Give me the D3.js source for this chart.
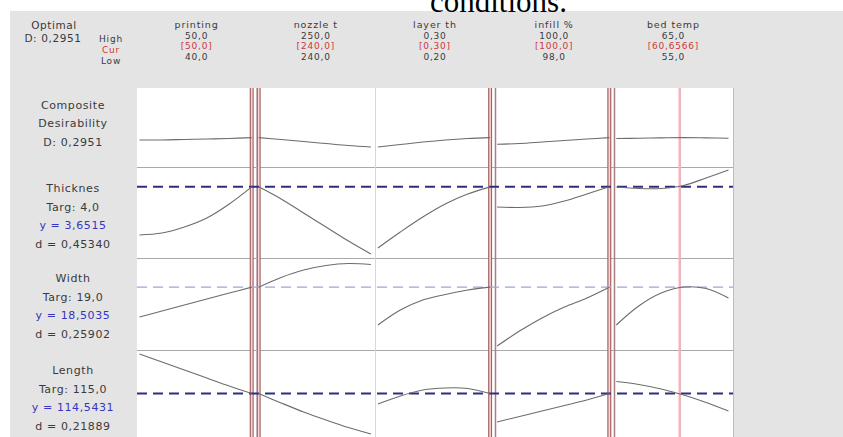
<!DOCTYPE html>
<html>
<head>
<meta charset="utf-8">
<script src="https://cdn.jsdelivr.net/npm/d3@7"></script>
<style>
  html, body { margin: 0; padding: 0; background: #ffffff; }
  svg { display: block; }
  text { font-family: "DejaVu Sans", sans-serif; }
</style>
</head>
<body>
<svg id="chart" width="843" height="437"></svg>
<script>
// ---- Factors ----
const factors = ["printing", "nozzle t", "layer th", "infill %", "bed temp"];
const lows = [40, 240, 0.20, 98, 55];
const highs = [50, 250, 0.30, 100, 65];
const current = [50, 240, 0.30, 100, 60.6566];
const highLabels = ["50,0", "250,0", "0,30", "100,0", "65,0"];
const curLabels = ["[50,0]", "[240,0]", "[0,30]", "[100,0]", "[60,6566]"];
const lowLabels = ["40,0", "240,0", "0,20", "98,0", "55,0"];

// Factor settings at which the responses are traced
const printingLevels = [40, 42, 44, 46, 48, 50];
const nozzleLevels = [240, 242, 244, 246, 248, 250];
const layerLevels = [0.20, 0.22, 0.24, 0.26, 0.28, 0.30];
const infillLevels = [98, 98.4, 98.8, 99.2, 99.6, 100];
const bedLevels = [55, 57, 59, 61, 63, 65];
const levels = [printingLevels, nozzleLevels, layerLevels, infillLevels, bedLevels];

// ---- Responses (one array per factor column) ----
const compositeCurves = [
  [0.267, 0.267, 0.273, 0.279, 0.285, 0.2951],
  [0.2951, 0.273, 0.248, 0.224, 0.200, 0.182],
  [0.182, 0.212, 0.242, 0.267, 0.285, 0.2951],
  [0.215, 0.224, 0.242, 0.261, 0.279, 0.2951],
  [0.285, 0.288, 0.292, 0.2951, 0.292, 0.288]
];
const thicknessCurves = [
  [3.17, 3.19, 3.25, 3.34, 3.48, 3.6515],
  [3.6515, 3.53, 3.39, 3.25, 3.11, 2.98],
  [3.04, 3.20, 3.35, 3.48, 3.58, 3.6515],
  [3.45, 3.445, 3.46, 3.51, 3.58, 3.6515],
  [3.65, 3.635, 3.635, 3.665, 3.74, 3.82]
];
const widthCurves = [
  [16.73, 17.08, 17.44, 17.80, 18.15, 18.5035],
  [18.5035, 19.08, 19.52, 19.79, 19.91, 19.85],
  [16.25, 17.14, 17.74, 18.07, 18.33, 18.5035],
  [15.00, 15.89, 16.67, 17.32, 17.86, 18.5035],
  [16.25, 17.38, 18.15, 18.51, 18.42, 17.86]
];
const lengthCurves = [
  [117.00, 116.50, 116.01, 115.51, 115.01, 114.5431],
  [114.5431, 113.96, 113.40, 112.90, 112.43, 112.03],
  [113.89, 114.39, 114.76, 114.89, 114.86, 114.5431],
  [112.78, 113.12, 113.46, 113.80, 114.14, 114.5431],
  [115.29, 115.11, 114.83, 114.45, 113.99, 113.46]
];

const responseNames = ["Thicknes", "Width", "Length"];
const targetLabels = ["Targ: 4,0", "Targ: 19,0", "Targ: 115,0"];
const yLabels = ["y = 3,6515", "y = 18,5035", "y = 114,5431"];
const dLabels = ["d = 0,45340", "d = 0,25902", "d = 0,21889"];
const currentY = [3.6515, 18.5035, 114.5431];
const compositeLabel = "D: 0,2951";

// Response-axis domains per row
const compositeDomain = [0, 0.8];
const thicknessDomain = [3.0, 3.8];
const widthDomain = [15, 20];
const lengthDomain = [112, 117];

// ---- Layout ----
const svg = d3.select("#chart");
const panelLeft = 137, panelRight = 733, panelTop = 88, panelBottom = 437;
const colW = (panelRight - panelLeft) / factors.length;
const rowTops = [88, 167, 258, 350];

svg.append("rect").attr("x", 10).attr("y", 11).attr("width", 833).attr("height", 426)
  .attr("fill", "#e4e4e4");
svg.append("rect").attr("x", panelLeft).attr("y", panelTop)
  .attr("width", panelRight - panelLeft).attr("height", panelBottom - panelTop)
  .attr("fill", "#ffffff");

// caption fragment above the figure
svg.append("text").attr("x", 430).attr("y", 12)
  .style("font-family", "'Liberation Serif', 'Times New Roman', serif")
  .style("font-size", "31px").attr("fill", "#000").text("conditions.");

// x scales, one per factor column
const xScales = factors.map((f, i) => {
  const x0 = panelLeft + i * colW;
  return d3.scaleLinear().domain([lows[i], highs[i]]).range([x0 + 2.5, x0 + colW - 4.5]);
});

// y scales, one per row
const yComposite = d3.scaleLinear().domain(compositeDomain).range([162, 96]);
const yThickness = d3.scaleLinear().domain(thicknessDomain).range([252, 172]);
const yWidth = d3.scaleLinear().domain(widthDomain).range([346, 262]);
const yLength = d3.scaleLinear().domain(lengthDomain).range([434.5, 354]);
const responseScales = [yThickness, yWidth, yLength];

// grid: row and column dividers
const grid = svg.append("g");
rowTops.slice(1).forEach(y => {
  grid.append("line").attr("x1", panelLeft).attr("x2", panelRight)
    .attr("y1", y + 0.5).attr("y2", y + 0.5).attr("stroke", "#a9a9a9").attr("stroke-width", 1);
});
for (let i = 1; i < factors.length; i++) {
  const x = Math.round(panelLeft + i * colW) + 0.5;
  grid.append("line").attr("x1", x).attr("x2", x).attr("y1", panelTop).attr("y2", panelBottom)
    .attr("stroke", i >= 3 ? "#a98080" : "#d6d6e0").attr("stroke-width", i >= 3 ? 1.5 : 1);
}
grid.append("line").attr("x1", panelRight + 0.5).attr("x2", panelRight + 0.5)
  .attr("y1", panelTop).attr("y2", panelBottom).attr("stroke", "#bdbdbd");

// current-setting lines
const curG = svg.append("g");
current.forEach((c, i) => {
  const x = xScales[i](c);
  const atBound = (c === lows[i] || c === highs[i]);
  if (atBound) {
    curG.append("line").attr("x1", x).attr("x2", x).attr("y1", panelTop).attr("y2", panelBottom)
      .attr("stroke", "#a86464").attr("stroke-width", 4);
    curG.append("line").attr("x1", x).attr("x2", x).attr("y1", panelTop).attr("y2", panelBottom)
      .attr("stroke", "#f3d6d6").attr("stroke-width", 1.6);
  } else {
    curG.append("line").attr("x1", x).attr("x2", x).attr("y1", panelTop).attr("y2", panelBottom)
      .attr("stroke", "#f2b4bc").attr("stroke-width", 2.5);
  }
});

// current predicted response lines
responseScales.forEach((ys, r) => {
  svg.append("line").attr("x1", panelLeft).attr("x2", panelRight)
    .attr("y1", ys(currentY[r])).attr("y2", ys(currentY[r]))
    .attr("stroke", r === 1 ? "#a4a4d4" : "#2e2e86")
    .attr("stroke-width", r === 1 ? 1.4 : 2)
    .attr("stroke-dasharray", "10,6");
});

// response traces
const allCurves = [compositeCurves, thicknessCurves, widthCurves, lengthCurves];
const allScales = [yComposite, yThickness, yWidth, yLength];
const traceG = svg.append("g");
allCurves.forEach((curves, r) => {
  curves.forEach((vals, i) => {
    const line = d3.line()
      .x((d, k) => xScales[i](levels[i][k]))
      .y(d => allScales[r](d))
      .curve(d3.curveCatmullRom);
    traceG.append("path").attr("d", line(vals)).attr("fill", "none")
      .attr("stroke", "#6c6c6c").attr("stroke-width", 1.1);
  });
});

// ---- Header text ----
const txt = (x, y, s, opts = {}) => svg.append("text")
  .attr("x", x).attr("y", y).attr("text-anchor", opts.anchor || "middle")
  .attr("fill", opts.fill || "#3a3a3a")
  .style("font-size", (opts.size || 11) + "px")
  .style("letter-spacing", (opts.ls != null ? opts.ls : 0.6) + "px")
  .text(s);

txt(54, 29, "Optimal", { size: 10.5 });
txt(53, 42, "D: 0,2951", { size: 10.5 });
txt(111, 42, "High", { size: 9, ls: 0.8 });
txt(111, 53, "Cur", { size: 9, ls: 0.8, fill: "#d03838" });
txt(111, 64, "Low", { size: 9, ls: 0.8 });

factors.forEach((f, i) => {
  const cx = panelLeft + (i + 0.5) * colW;
  txt(cx, 28, f, { size: 9.5, ls: 0.9 });
  txt(cx, 38.5, highLabels[i], { size: 9, ls: 0.8 });
  txt(cx, 49, curLabels[i], { size: 9, ls: 0.8, fill: "#d03838" });
  txt(cx, 59.5, lowLabels[i], { size: 9, ls: 0.8 });
});

// ---- Row labels ----
const lx = 73;
txt(lx, 109, "Composite");
txt(lx, 127, "Desirability");
txt(lx, 146, compositeLabel);
const labelTops = [192, 282, 374];
responseNames.forEach((n, r) => {
  const y0 = labelTops[r];
  txt(lx, y0, n);
  txt(lx, y0 + 18.5, targetLabels[r]);
  txt(lx, y0 + 37, yLabels[r], { fill: "#3535c0" });
  txt(lx, y0 + 55.5, dLabels[r]);
});
</script>
</body>
</html>
